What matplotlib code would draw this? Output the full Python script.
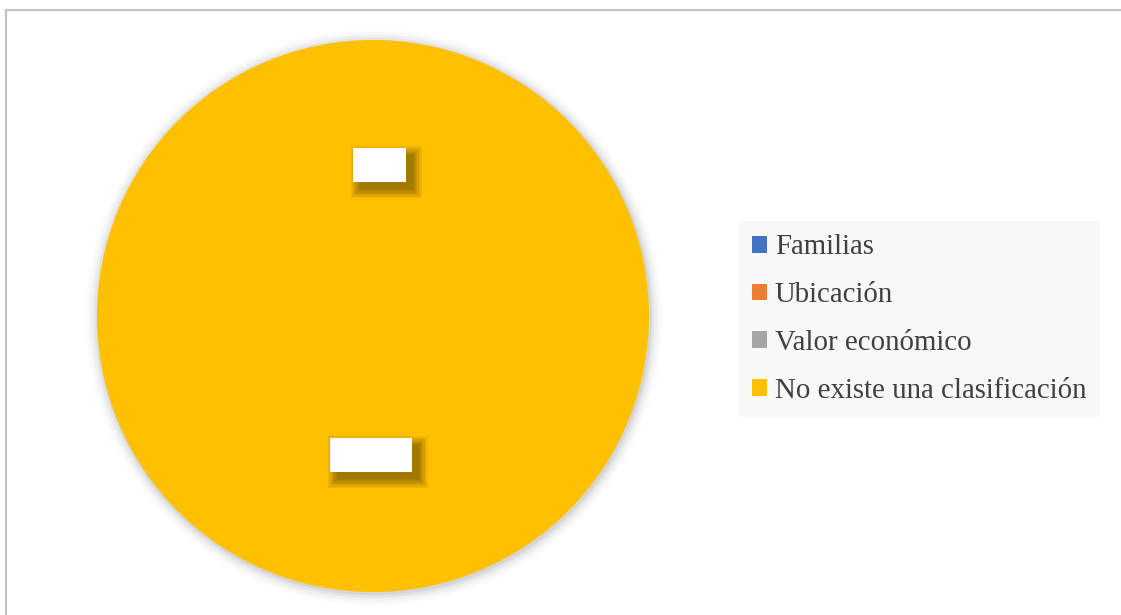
import matplotlib.pyplot as plt
import matplotlib.patches as mpatches

# 数据
categorias = ['Familias', 'Ubicación', 'Valor económico', 'No existe una clasificación']
valores = [0, 0, 0, 100]
colores = ['#4472C4', '#ED7D31', '#A5A5A5', '#FFC000']

plt.rcParams['font.family'] = ['Liberation Serif', 'DejaVu Serif']

fig = plt.figure(figsize=(11.21, 6.15), dpi=100)

# 外边框
borde = mpatches.Rectangle((6 / 1121, -0.05), 1.1, 1 - 10 / 615 + 0.05,
                           transform=fig.transFigure, fill=False,
                           edgecolor='#c4c4c4', linewidth=1.6, clip_on=False)
fig.patches.append(borde)

ax = fig.add_axes([0, 0, 1, 1])

# 饼图阴影（柔和）
for r, a in [(1.045, 0.012), (1.035, 0.02), (1.025, 0.03), (1.015, 0.045), (1.006, 0.06)]:
    ax.add_patch(mpatches.Circle((0.004, -0.006), r, color='#000000', alpha=a,
                                 linewidth=0, zorder=0))

wedges, _ = ax.pie(valores, colors=colores, startangle=90, counterclock=False,
                   wedgeprops=dict(linewidth=0), radius=1.0)
for w in wedges:
    w.set_zorder(1)

ax.set_xlim(-1.05, 1.05)
ax.set_ylim(-1.05, 1.05)
ax.set_aspect('equal')
ax.axis('off')
ax.set_position([(373 - 276 * 1.05) / 1121, (615 - 316 - 276 * 1.05) / 615,
                 552 * 1.05 / 1121, 552 * 1.05 / 615])

# 空白数据标签框（带模糊阴影）
etiquetas = [(0.024, 0.547, 0.192), (-0.007, -0.504, 0.297)]
alto = 0.123
dx, dy = 0.024, -0.026
for cx, cy, ancho in etiquetas:
    x0, y0 = cx - ancho / 2, cy - alto / 2
    for k in [0.066, 0.054, 0.044, 0.034, 0.025, 0.016, 0.008, 0.0]:
        ax.add_patch(mpatches.Rectangle((x0 + dx - k / 2, y0 + dy - k / 2),
                                        ancho + k, alto + k, color='#3a2c00',
                                        alpha=0.075, linewidth=0, zorder=2))
    ax.add_patch(mpatches.Rectangle((x0, y0), ancho, alto, facecolor='white',
                                    linewidth=0, zorder=3))

# 图例
leg = fig.legend(wedges, categorias, loc='center left',
                 bbox_to_anchor=(739 / 1121, 1 - 319 / 615),
                 fontsize=20.8, frameon=True, fancybox=False,
                 facecolor='#f8f8f8', edgecolor='none', framealpha=1,
                 handlelength=0.52, handleheight=0.52, handletextpad=0.26,
                 labelspacing=0.75, borderpad=0.46, borderaxespad=0)
for t in leg.get_texts():
    t.set_color('#404040')

fig.savefig('out.png', dpi=100)
